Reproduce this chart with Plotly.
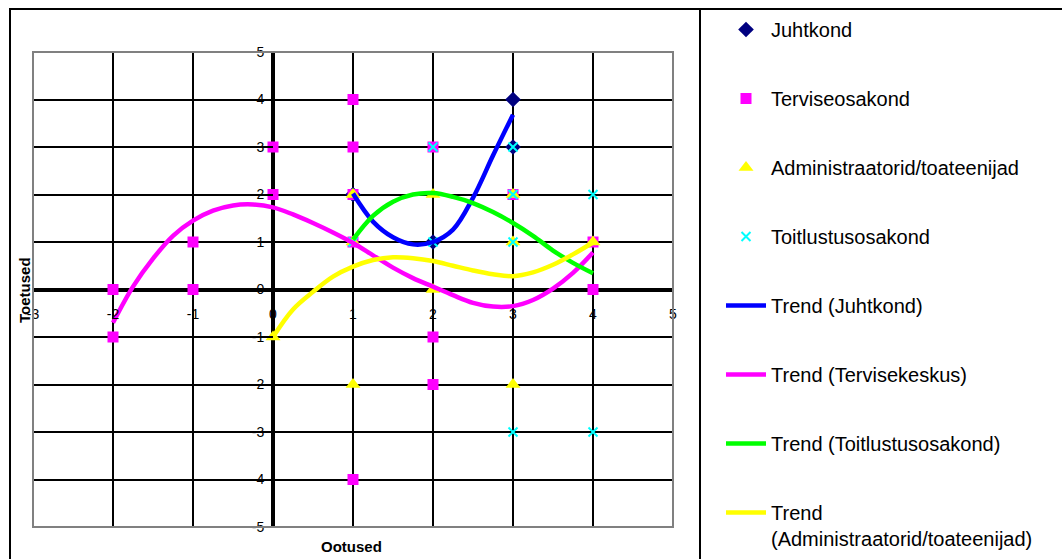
import plotly.graph_objects as go

# ---- data ----
juht_x = [1, 2, 3, 3]
juht_y = [2, 1, 3, 4]

terv_x = [-2, -2, -1, -1, 0, 0, 1, 1, 1, 1, 1, 2, 2, 2, 3, 4, 4]
terv_y = [0, -1, 1, 0, 3, 2, 4, 3, 2, 1, -4, 3, -1, -2, 2, 1, 0]

adm_x = [0, 1, 1, 1, 2, 2, 3, 3, 3, 4]
adm_y = [-1, 2, 1, -2, 2, 0, 2, 1, -2, 1]

toit_x = [1, 2, 2, 3, 3, 3, 3, 4, 4]
toit_y = [1, 3, 1, 3, 2, 1, -3, 2, -3]

# trend curves
tr_juht_x = [1, 1.25, 1.5, 1.75, 2, 2.25, 2.5, 2.75, 3]
tr_juht_y = [2.02, 1.43, 1.10, 0.95, 1.00, 1.26, 1.93, 2.82, 3.68]

tr_terv_x = [-2, -1.75, -1.5, -1.25, -1, -0.75, -0.5, -0.25, 0, 0.25, 0.5, 0.75,
             1, 1.25, 1.5, 1.75, 2, 2.25, 2.5, 2.75, 3, 3.25, 3.5, 3.75, 4]
tr_terv_y = [-0.7, 0.06, 0.65, 1.13, 1.45, 1.66, 1.77, 1.79, 1.73, 1.58, 1.4, 1.2,
             0.98, 0.72, 0.46, 0.24, 0.06, -0.12, -0.28, -0.36, -0.35, -0.22, 0.02, 0.35, 0.78]

tr_toit_x = [1, 1.25, 1.5, 1.75, 2, 2.25, 2.5, 2.75, 3, 3.25, 3.5, 3.75, 4]
tr_toit_y = [1.05, 1.55, 1.85, 2.0, 2.03, 1.95, 1.82, 1.63, 1.4, 1.13, 0.82, 0.56, 0.34]

tr_adm_x = [0, 0.25, 0.5, 0.75, 1, 1.25, 1.5, 1.75, 2, 2.25, 2.5, 2.75, 3, 3.25, 3.5, 3.75, 4]
tr_adm_y = [-1.0, -0.42, -0.05, 0.27, 0.48, 0.62, 0.68, 0.66, 0.6, 0.5, 0.4, 0.32, 0.28,
            0.36, 0.52, 0.74, 0.99]

x_ticks = [-3, -2, -1, 0, 1, 2, 3, 4, 5]
y_ticks = [-5, -4, -3, -2, -1, 0, 1, 2, 3, 4, 5]

FONT = "Liberation Sans, Arial, sans-serif"

fig = go.Figure()

fig.add_trace(go.Scatter(x=juht_x, y=juht_y, mode="markers", name="Juhtkond",
                         legendgroup="a",
                         marker=dict(symbol="diamond", size=12, color="#000080")))
fig.add_trace(go.Scatter(x=terv_x, y=terv_y, mode="markers", name="Terviseosakond",
                         legendgroup="b",
                         marker=dict(symbol="square", size=11, color="#FF00FF")))
fig.add_trace(go.Scatter(x=adm_x, y=adm_y, mode="markers", name="Administraatorid/toateenijad",
                         legendgroup="c",
                         marker=dict(symbol="triangle-up", size=13, color="#FFFF00")))
fig.add_trace(go.Scatter(x=toit_x, y=toit_y, mode="markers", name="Toitlustusosakond",
                         legendgroup="d",
                         marker=dict(symbol="x-thin", size=9, color="#00FFFF",
                                     line=dict(color="#00FFFF", width=2))))

fig.add_trace(go.Scatter(x=tr_juht_x, y=tr_juht_y, mode="lines", name="Trend (Juhtkond)",
                         legendgroup="e", line=dict(color="#0000FF", width=4.5, shape="spline")))
fig.add_trace(go.Scatter(x=tr_terv_x, y=tr_terv_y, mode="lines", name="Trend (Tervisekeskus)",
                         legendgroup="f", line=dict(color="#FF00FF", width=4.5, shape="spline")))
fig.add_trace(go.Scatter(x=tr_toit_x, y=tr_toit_y, mode="lines", name="Trend (Toitlustusosakond)",
                         legendgroup="g", line=dict(color="#00FF00", width=4.5, shape="spline")))
fig.add_trace(go.Scatter(x=tr_adm_x, y=tr_adm_y, mode="lines",
                         name="Trend<br>(Administraatorid/toateenijad)",
                         legendgroup="h", line=dict(color="#FFFF00", width=4.5, shape="spline")))

L, R, T, B = 33, 389, 52, 32
W, H = 1062, 559
pw, ph = W - L - R, H - T - B


def px2x(px):
    return (px - L) / pw


def py2y(py):
    return (H - B - py) / ph


fig.update_layout(
    width=W, height=H,
    margin=dict(l=L, r=R, t=T, b=B, autoexpand=False),
    paper_bgcolor="white", plot_bgcolor="white",
    font=dict(family=FONT, color="black"),
    showlegend=True,
    legend=dict(x=px2x(721), y=py2y(10), xanchor="left", yanchor="top",
                font=dict(size=20, family=FONT, color="black"),
                traceorder="grouped", tracegroupgap=40, valign="top",
                itemwidth=40, maxheight=2000,
                bgcolor="rgba(0,0,0,0)", borderwidth=0),
    xaxis=dict(range=[-3, 5], tickvals=x_ticks, ticktext=[str(v) for v in x_ticks],
               showgrid=True, gridcolor="black", gridwidth=1.5,
               zeroline=True, zerolinecolor="black", zerolinewidth=4,
               anchor="free", position=0.5, showline=False,
               ticks="outside", ticklen=12, tickcolor="rgba(0,0,0,0)",
               tickfont=dict(size=14, color="black"), fixedrange=True),
    yaxis=dict(range=[-5, 5], tickvals=y_ticks, ticktext=[str(v) for v in y_ticks],
               showgrid=True, gridcolor="black", gridwidth=1.5,
               zeroline=True, zerolinecolor="black", zerolinewidth=4,
               anchor="free", position=3 / 8, showline=False,
               ticks="outside", ticklen=6, tickwidth=2, tickcolor="black",
               tickfont=dict(size=14, color="black"), fixedrange=True),
    shapes=[
        # plot area border
        dict(type="rect", xref="paper", yref="paper", x0=0, x1=1, y0=0, y1=1,
             line=dict(color="#808080", width=2), layer="above"),
        # outer chart border
        dict(type="rect", xref="paper", yref="paper",
             x0=px2x(10), x1=px2x(1070), y0=py2y(570), y1=py2y(9),
             line=dict(color="black", width=2)),
        # legend box left edge
        dict(type="line", xref="paper", yref="paper",
             x0=px2x(700), x1=px2x(700), y0=py2y(570), y1=py2y(9),
             line=dict(color="black", width=2)),
    ],
    annotations=[
        dict(text="<b>Ootused</b>", xref="paper", yref="paper",
             x=px2x(351), y=py2y(546), showarrow=False,
             xanchor="center", yanchor="middle",
             font=dict(size=15, family=FONT, color="black")),
        dict(text="<b>Toetused</b>", xref="paper", yref="paper",
             x=px2x(24), y=py2y(290), showarrow=False, textangle=-90,
             xanchor="center", yanchor="middle",
             font=dict(size=15, family=FONT, color="black")),
    ],
)

fig.write_html("out.html")
